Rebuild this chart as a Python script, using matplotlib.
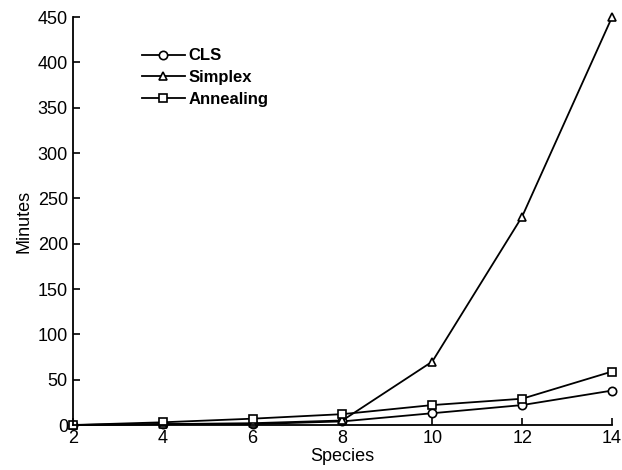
import matplotlib
matplotlib.use("Agg")
import matplotlib.pyplot as plt

species = [2, 4, 6, 8, 10, 12, 14]
cls = [0, 1, 1, 4, 13, 22, 38]
simplex = [0, 1, 2, 5, 70, 230, 450]
annealing = [0, 3, 7, 12, 22, 29, 59]

plt.rcParams['font.family'] = ['Liberation Sans', 'DejaVu Sans']
fig = plt.figure(figsize=(6.22, 4.70), dpi=100)
ax = fig.add_axes([0.117, 0.0957, 0.867, 0.868])

kw = dict(color='black', linewidth=1.3, markersize=6, markerfacecolor='white',
          markeredgecolor='black', markeredgewidth=1.2, clip_on=False)
ax.plot(species, cls, marker='o', label='CLS', **kw)
ax.plot(species, simplex, marker='^', label='Simplex', **kw)
ax.plot(species, annealing, marker='s', label='Annealing', **kw)

ax.set_xlim(2, 14)
ax.set_ylim(0, 450)
ax.set_xticks(species)
ax.set_yticks(range(0, 451, 50))
ax.spines['top'].set_visible(False)
ax.spines['right'].set_visible(False)
ax.spines['left'].set_linewidth(1.3)
ax.spines['bottom'].set_linewidth(1.3)
ax.tick_params(direction='in', length=5, width=1.2, labelsize=13, colors='black')
ax.set_xlabel('Species', fontsize=13, labelpad=1)
ax.set_ylabel('Minutes', fontsize=13, labelpad=4)

leg = ax.legend(loc='upper left', bbox_to_anchor=(0.1, 0.96), frameon=False, fontsize=12,
                handlelength=2.6, handletextpad=0.2, labelspacing=0.4)
for t in leg.get_texts():
    t.set_fontweight('bold')

fig.savefig('out.png', dpi=100)
